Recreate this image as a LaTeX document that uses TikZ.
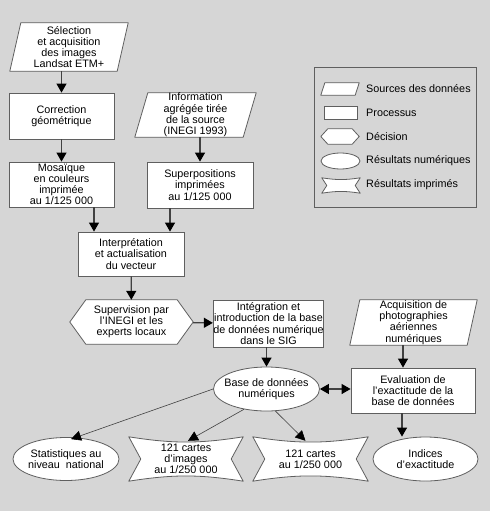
\documentclass[tikz,border=0pt]{standalone}
\usepackage{fontspec}
\setmainfont{Liberation Sans}
\usetikzlibrary{arrows.meta,shapes.geometric,calc}
\pgfdeclarelayer{bglayer}
\pgfdeclarelayer{shplayer}
\pgfsetlayers{bglayer,shplayer,main}
\definecolor{bgc}{RGB}{214,214,214}
\definecolor{edge}{RGB}{95,95,95}
\definecolor{linec}{RGB}{65,65,65}
\tikzset{
  txt/.style={font=\fontsize{10.8}{11.2}\selectfont, align=center, inner sep=0pt},
  ltxt/.style={font=\fontsize{10.8}{11.2}\selectfont, anchor=west, inner sep=0pt},
  proc/.style={txt, rectangle, draw=edge, fill=white, line width=0.8pt},
  frame/.style={txt, rectangle, draw=none},
  shp/.style={draw=edge, fill=white, line width=0.8pt, line join=round},
  res/.style={ellipse, draw=edge, fill=white, line width=0.8pt, inner sep=0pt},
  arr/.style={draw=linec, line width=1.2pt, -{Triangle[width=10pt,length=9pt,fill=black,color=black]}},
  darr/.style={draw=linec, line width=1.2pt, {Triangle[width=10pt,length=9pt,fill=black,color=black]}-{Triangle[width=10pt,length=9pt,fill=black,color=black]}},
  tarr/.style={draw=linec, line width=0.6pt, -{Triangle[width=10pt,length=10pt,fill=black,color=black]}},
}
\newcommand\parashape[2]{%
  \begin{pgfonlayer}{shplayer}
  \path[shp] ([xshift=#2]#1.north west) -- (#1.north east) -- ([xshift=-#2]#1.south east) -- (#1.south west) -- cycle;
  \end{pgfonlayer}}
\newcommand\hexshape[2]{%
  \begin{pgfonlayer}{shplayer}
  \path[shp] (#1.west) -- ([xshift=#2]#1.north west) -- ([xshift=-#2]#1.north east) -- (#1.east) -- ([xshift=-#2]#1.south east) -- ([xshift=#2]#1.south west) -- cycle;
  \end{pgfonlayer}}
\newcommand\bowshape[2]{%
  \begin{pgfonlayer}{shplayer}
  \path[shp] (#1.north west) to[bend right=9] (#1.north east) -- ([xshift=-#2]#1.east) -- (#1.south east) to[bend right=9] (#1.south west) -- ([xshift=#2]#1.west) -- cycle;
  \end{pgfonlayer}}
\begin{document}
\begin{tikzpicture}[x=1pt,y=-1pt]
\begin{pgfonlayer}{bglayer}
\fill[bgc] (0,0) rectangle (490,511);
\end{pgfonlayer}
\useasboundingbox (0,0) rectangle (490,511);

% sources
\node[frame, minimum width=118pt, minimum height=48pt] (sel) at (69,47) {Sélection\\et acquisition\\des images\\Landsat ETM+};
\parashape{sel}{11pt}
\node[frame, minimum width=121pt, minimum height=44pt] (inf) at (195.5,115) {Information\\agrégée tirée\\de la source\\(INEGI 1993)};
\parashape{inf}{13pt}
\node[frame, minimum width=127pt, minimum height=45pt] (acq) at (413.5,322.5) {Acquisition de\\photographies\\aériennes\\numériques};
\parashape{acq}{10pt}

% processes
\node[proc, minimum width=105pt, minimum height=46pt] (cor) at (61.5,116) {Correction\\géométrique};
\node[proc, minimum width=105pt, minimum height=45pt] (mos) at (61.5,184.5) {Mosaïque\\en couleurs\\imprimée\\au 1/125 000};
\node[proc, minimum width=106pt, minimum height=46pt] (sup) at (200,185) {Superpositions\\imprimées\\au 1/125 000};
\node[proc, minimum width=106pt, minimum height=44pt] (int) at (131,254) {Interprétation\\et actualisation\\du vecteur};
\node[proc, minimum width=109pt, minimum height=47pt] (ing) at (268.5,323.5) {Intégration et\\introduction de la base\\de données numérique\\dans le SIG};
\node[proc, minimum width=124pt, minimum height=45pt] (eva) at (413,390.5) {Evaluation de\\l'exactitude de la\\base de données};

% decision
\node[frame, minimum width=123pt, minimum height=44pt] (hex) at (131.5,322) {Supervision par\\l'INEGI et les\\experts locaux};
\hexshape{hex}{16pt}

% numeric results
\node[res, minimum width=106pt, minimum height=44pt] (bdd) at (266.5,389) {};
\node[txt] (bddt) at (bdd) {Base de données\\numériques};
\node[res, minimum width=106pt, minimum height=43pt] (sta) at (66,459) {};
\node[txt] (stat) at (sta) {Statistiques au\\niveau\ \ national};
\node[res, minimum width=105pt, minimum height=44pt] (ind) at (425.5,459) {};
\node[txt] (indt) at (ind) {Indices\\d'exactitude};

% printed results
\node[frame, minimum width=114pt, minimum height=44pt] (ca) at (186,459) {121 cartes\\d'images\\au 1/250 000};
\bowshape{ca}{12pt}
\node[frame, minimum width=115pt, minimum height=44pt] (cb) at (310.5,459) {121 cartes\\au 1/250 000};
\bowshape{cb}{12pt}

% connectors
\draw[arr] (cor.north |- sel.south) -- (cor.north);
\draw[arr] (cor) -- (mos);
\draw[arr] (sup.north |- inf.south) -- (sup.north);
\coordinate (im) at ([xshift=-37pt]int.north);
\coordinate (is) at ([xshift=39pt]int.north);
\draw[arr] (im |- mos.south) -- (im);
\draw[arr] (is |- sup.south) -- (is);
\draw[arr] (int) -- (hex);
\draw[arr] (hex) -- (ing);
\draw[arr] (ing.south -| bdd.north) -- (bdd.north);
\coordinate (ae) at ([xshift=-10pt]eva.north);
\draw[arr] (ae |- acq.south) -- (ae);
\coordinate (ei) at ([xshift=-11pt]eva.south);
\draw[arr] (ei) -- (ei |- ind.north);
\draw[darr] (bdd.east) -- (eva.west |- bdd.east);
\draw[tarr] (bdd.west) -- ([xshift=5pt,yshift=-2pt]sta.north);
\draw[tarr] (bdd.222) -- ([xshift=2pt,yshift=-4pt]ca.north);
\draw[tarr] (bdd.292) -- ([xshift=-5pt,yshift=-4pt]cb.north);

% legend
\node[rectangle, draw=edge, line width=0.8pt, minimum width=162pt, minimum height=140pt, inner sep=0pt] (leg) at (395,137) {};
\node[frame, minimum width=38pt, minimum height=12pt] (lg1) at (340,89) {};
\parashape{lg1}{4pt}
\node[proc, minimum width=33pt, minimum height=13pt] (lg2) at (340.5,112.5) {};
\node[frame, minimum width=38pt, minimum height=15pt] (lg3) at (340,136.5) {};
\hexshape{lg3}{7pt}
\node[res, minimum width=39pt, minimum height=16pt] (lg4) at (340.5,161) {};
\node[frame, minimum width=38pt, minimum height=15pt] (lg5) at (341,185.5) {};
\bowshape{lg5}{5pt}
\node[ltxt] (l1) at (366,89) {Sources des données};
\node[ltxt] (l2) at (366,112.5) {Processus};
\node[ltxt] (l3) at (366,136.5) {Décision};
\node[ltxt] (l4) at (366,161) {Résultats numériques};
\node[ltxt] (l5) at (366,184.5) {Résultats imprimés};
\end{tikzpicture}
\end{document}
